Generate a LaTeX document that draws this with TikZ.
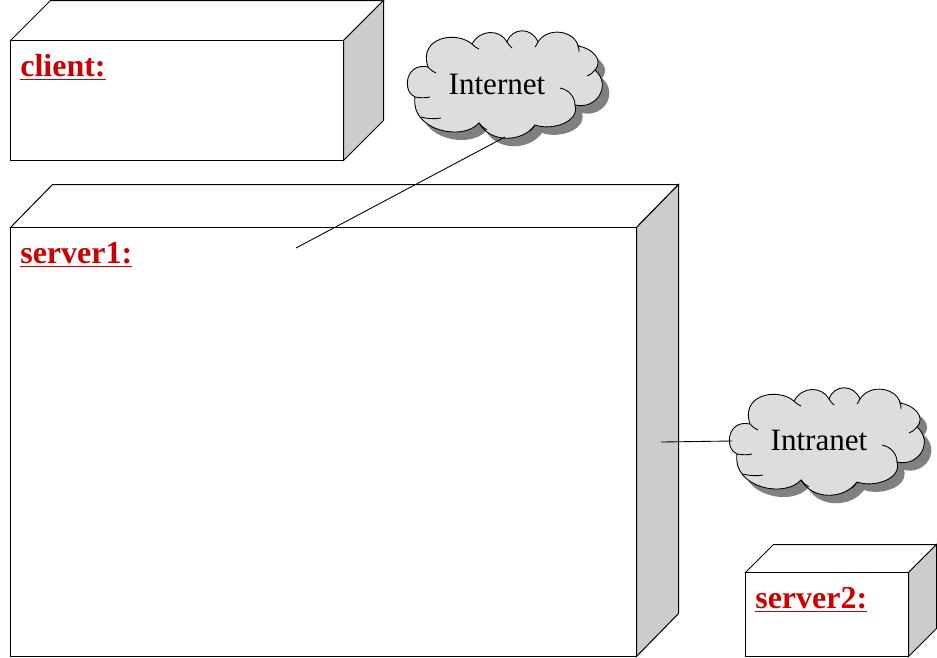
\documentclass[tikz,border=0pt]{standalone}
\usepackage{fontspec}
\setmainfont{Liberation Serif}
\usepackage{tikz}
\usetikzlibrary{positioning}
\definecolor{sidegrey}{HTML}{CCCCCC}
\definecolor{cloudgrey}{HTML}{DDDDDD}
\definecolor{shadowgrey}{HTML}{808080}
\definecolor{labelred}{HTML}{CC0000}
\tikzset{
  boxline/.style={draw=black, line width=0.57pt, line join=miter},
  boxlabel/.style={anchor=base west, inner sep=0pt, text=labelred, font=\fontsize{18.2}{20}\selectfont\bfseries},
  cloudlabel/.style={inner sep=0pt, font=\fontsize{17.7}{20}\selectfont},
  cloudline/.style={draw=black, line width=0.5pt},
  wire/.style={draw=black, line width=0.5pt}
}
\newcommand{\cloudoutline}{
  (428,67) .. controls (405,62) and (402,92) .. (415,97)
  .. controls (410,130) and (462,142) .. (479,123)
  .. controls (490,143) and (522,143) .. (535,125)
  .. controls (552,131) and (580,122) .. (575,105)
  .. controls (597,110) and (612,85) .. (595,70)
  .. controls (604,60) and (592,48) .. (578,46)
  .. controls (575,31) and (548,26) .. (538,42)
  .. controls (532,27) and (512,27) .. (507,42)
  .. controls (500,29) and (480,29) .. (472,44)
  .. controls (455,30) and (418,38) .. (428,67) -- cycle
}
\newcommand{\cloudcurls}{
  \draw[cloudline] (428,67) .. controls (431,70) and (433,72) .. (436,73);
  \draw[cloudline] (415,97) .. controls (420,98) and (426,98) .. (430,97);
  \draw[cloudline] (421,117) .. controls (427,119) and (436,119) .. (441,118);
  \draw[cloudline] (479,123) .. controls (481,126) and (484,128) .. (487,130);
  \draw[cloudline] (535,125) .. controls (534,127) and (532,129) .. (530,131);
  \draw[cloudline] (575,105) .. controls (575,98) and (570,90) .. (560,88);
  \draw[cloudline] (595,70) .. controls (593,73) and (590,75) .. (587,76);
  \draw[cloudline] (578,46) .. controls (579,48) and (579,50) .. (579,52);
  \draw[cloudline] (538,42) .. controls (537,44) and (536,46) .. (535,47);
  \draw[cloudline] (507,42) .. controls (508,44) and (510,46) .. (512,48);
  \draw[cloudline] (472,44) .. controls (474,46) and (476,48) .. (479,49);
}
\begin{document}
\begin{tikzpicture}[x=0.02cm, y=-0.02cm]
  \useasboundingbox (0, 0) rectangle (937, 657);
  % client
  \draw[boxline, fill=white] (10.5, 40.5) -- (50.5, 0.5) -- (383.5, 0.5) -- (343.5, 40.5) -- cycle;
  \draw[boxline, fill=sidegrey] (343.5, 40.5) -- (383.5, 0.5) -- (383.5, 120.5) -- (343.5, 160.5) -- cycle;
  \draw[boxline, fill=white] (10.5, 40.5) rectangle (343.5, 160.5);
  \node[boxlabel] (clientlabel) at (20, 76) {\underline{client:}};
  % server1
  \draw[boxline, fill=white] (10.5, 227.5) -- (52.5, 184.5) -- (678.5, 184.5) -- (636.5, 227.5) -- cycle;
  \draw[boxline, fill=sidegrey] (636.5, 227.5) -- (678.5, 184.5) -- (678.5, 613.5) -- (636.5, 656.5) -- cycle;
  \draw[boxline, fill=white] (10.5, 227.5) rectangle (636.5, 656.5);
  \node[boxlabel] (serveronelabel) at (20, 263) {\underline{server1:}};
  % server2
  \draw[boxline, fill=white] (745.5, 572.5) -- (773.5, 544.5) -- (936.5, 544.5) -- (908.5, 572.5) -- cycle;
  \draw[boxline, fill=sidegrey] (908.5, 572.5) -- (936.5, 544.5) -- (936.5, 628.5) -- (908.5, 656.5) -- cycle;
  \draw[boxline, fill=white] (745.5, 572.5) rectangle (908.5, 656.5);
  \node[boxlabel] (servertwolabel) at (755, 608) {\underline{server2:}};
  % internet cloud
  \fill[shadowgrey, shift={(7, 8)}] \cloudoutline;
  \draw[cloudline, fill=cloudgrey] \cloudoutline;
  \cloudcurls
  \node[cloudlabel] (internet) at (497, 84) {Internet};
  % intranet cloud
  \begin{scope}[shift={(322, 357)}]
    \fill[shadowgrey, shift={(7, 8)}] \cloudoutline;
    \draw[cloudline, fill=cloudgrey] \cloudoutline;
    \cloudcurls
  \end{scope}
  \node[cloudlabel] (intranet) at (819, 440) {Intranet};
  % wires
  \coordinate (internetfoot) at (505, 137);
  \coordinate (serveroneport) at (296, 248);
  \coordinate (intranetfoot) at (732, 441);
  \coordinate (serveroneside) at (661, 442);
  \draw[wire] (internetfoot) -- (serveroneport);
  \draw[wire] (intranetfoot) -- (serveroneside);
\end{tikzpicture}
\end{document}
